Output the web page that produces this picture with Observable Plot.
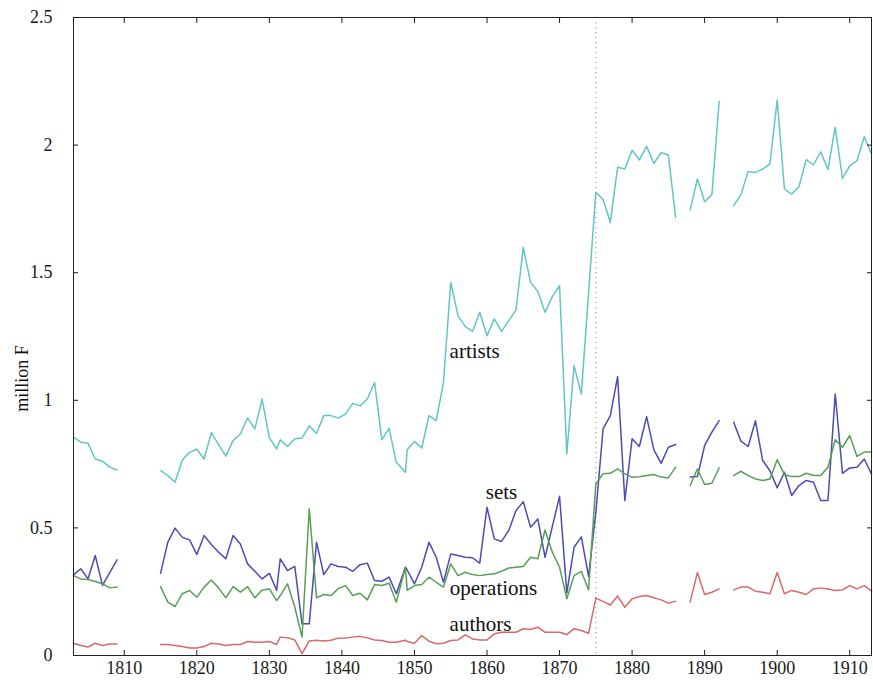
<!DOCTYPE html>
<html>
<head>
<meta charset="utf-8">
<script src="https://cdn.jsdelivr.net/npm/d3@7"></script>
<script src="https://cdn.jsdelivr.net/npm/@observablehq/plot@0.6"></script>
<style>
  html, body { margin: 0; padding: 0; background: #fff; }
  #chart svg { display: block; }
</style>
</head>
<body>
<div id="chart"></div>
<script>
// x positions (years) of the observations; the 1832–1848 readings sit half a year earlier in the source
const years = [1803,1804,1805,1806,1807,1808,1809,
  1810,1811,1812,1813,1814,
  1815,1816,1817,1818,1819,1820,1821,1822,1823,1824,1825,1826,1827,1828,1829,1830,1831,
  1831.5,1832.5,1833.5,1834.5,1835.5,1836.5,1837.5,1838.5,1839.5,1840.5,1841.5,1842.5,1843.5,1844.5,1845.5,1846.5,1847.5,
  1848.75,
  1849,1850,1851,1852,1853,1854,
  1855,1856,1857,1858,1859,1860,1861,1862,1863,1864,
  1865,1866,1867,1868,1869,1870,1871,1872,1873,1874,
  1875,1876,1877,1878,1879,1880,1881,1882,1883,1884,
  1885,1886,1887,1888,1889,1890,1891,1892,1893,1894,
  1895,1896,1897,1898,1899,1900,1901,1902,1903,1904,
  1905,1906,1907,1908,1909,1910,1911,1912,1913];

const artists = [0.855,0.836,0.832,0.770,0.761,0.738,0.727,
  null,null,null,null,null,
  0.725,0.705,0.679,0.766,0.796,0.808,0.770,0.873,0.826,0.781,0.842,0.868,0.931,0.888,1.005,0.853,0.810,
  0.845,0.819,0.849,0.852,0.900,0.870,0.940,0.940,0.930,0.947,0.988,0.978,1.005,1.070,0.845,0.890,0.757,
  0.718,
  0.806,0.839,0.813,0.940,0.920,1.070,
  1.462,1.332,1.289,1.270,1.345,1.253,1.319,1.270,1.312,1.354,
  1.599,1.462,1.427,1.345,1.406,1.449,0.790,1.136,1.025,1.420,
  1.815,1.787,1.697,1.913,1.906,1.980,1.942,1.995,1.928,1.971,
  1.961,1.717,null,1.746,1.867,1.778,1.806,2.171,null,1.763,
  1.806,1.897,1.893,1.906,1.926,2.177,1.828,1.808,1.837,1.943,
  1.922,1.974,1.904,2.070,1.870,1.919,1.939,2.033,1.965];

const sets = [0.316,0.340,0.300,0.392,0.275,0.325,0.375,
  null,null,null,null,null,
  0.322,0.444,0.499,0.463,0.453,0.396,0.470,0.435,0.405,0.379,0.470,0.437,0.359,0.330,0.300,0.322,0.255,
  0.379,0.333,0.349,0.124,0.124,0.444,0.317,0.359,0.349,0.346,0.330,0.356,0.362,0.294,0.291,0.307,0.242,
  0.346,
  0.335,0.281,0.346,0.444,0.385,0.287,
  0.398,0.392,0.385,0.383,0.362,0.581,0.457,0.447,0.490,0.568,
  0.603,0.503,0.535,0.385,0.505,0.624,0.245,0.424,0.465,0.310,
  0.560,0.888,0.940,1.093,0.607,0.849,0.819,0.936,0.806,0.753,
  0.816,0.827,null,0.699,0.701,0.823,0.875,0.920,null,0.914,
  0.840,0.819,0.920,0.764,0.724,0.657,0.718,0.627,0.666,0.686,
  0.679,0.607,0.607,1.025,0.714,0.735,0.738,0.770,0.711];

const operations = [0.313,0.300,0.298,0.290,0.281,0.265,0.268,
  null,null,null,null,null,
  0.270,0.209,0.192,0.242,0.255,0.228,0.268,0.296,0.265,0.226,0.270,0.248,0.270,0.226,0.257,0.261,0.215,
  0.235,0.281,0.190,0.072,0.575,0.226,0.239,0.235,0.262,0.274,0.235,0.244,0.218,0.278,0.274,0.283,0.209,
  0.346,
  0.255,0.274,0.278,0.307,0.287,0.268,
  0.359,0.313,0.326,0.317,0.313,0.317,0.320,0.330,0.343,0.346,
  0.349,0.385,0.379,0.492,0.405,0.346,0.222,0.313,0.330,0.257,
  0.672,0.712,0.714,0.731,0.712,0.698,0.700,0.705,0.709,0.699,
  0.696,0.738,null,0.666,0.731,0.670,0.675,0.735,null,0.705,
  0.722,0.705,0.692,0.686,0.692,0.767,0.709,0.701,0.701,0.714,
  0.705,0.705,0.738,0.845,0.816,0.862,0.780,0.797,0.797];

const authors = [0.048,0.039,0.033,0.048,0.039,0.045,0.045,
  null,null,null,null,null,
  0.043,0.043,0.039,0.035,0.029,0.029,0.035,0.048,0.045,0.039,0.043,0.043,0.055,0.052,0.052,0.055,0.043,
  0.072,0.070,0.061,0.007,0.057,0.060,0.057,0.060,0.068,0.069,0.072,0.075,0.069,0.061,0.059,0.052,0.052,
  0.060,
  0.055,0.048,0.078,0.056,0.046,0.048,
  0.059,0.061,0.081,0.065,0.061,0.061,0.085,0.091,0.091,0.091,
  0.105,0.102,0.111,0.091,0.091,0.091,0.082,0.105,0.098,0.087,
  0.225,0.212,0.198,0.233,0.189,0.222,0.231,0.235,0.226,0.218,
  0.205,0.213,null,0.210,0.325,0.239,0.248,0.261,null,0.257,
  0.268,0.268,0.252,0.248,0.242,0.325,0.242,0.255,0.248,0.239,
  0.261,0.265,0.261,0.255,0.257,0.274,0.261,0.274,0.252];

const seriesNames = ["artists", "sets", "operations", "authors"];
const seriesColors = ["#62c6c6", "#4c4cb4", "#55a055", "#d96868"];
const xTicks = [1810, 1820, 1830, 1840, 1850, 1860, 1870, 1880, 1890, 1900, 1910];
const yTicks = [0, 0.5, 1, 1.5, 2, 2.5];
const yTickLabels = ["0", "0.5", "1", "1.5", "2", "2.5"];
const yAxisTitle = "million F";
const yAxisTitleValue = 1.085;
const labelYears = [1858.3, 1862.0, 1860.9, 1859.1];
const labelValues = [1.193, 0.639, 0.264, 0.123];
const breakYear = 1875;

const seriesValues = [artists, sets, operations, authors];
const rows = [];
seriesNames.forEach((name, i) => {
  years.forEach((yr, j) => rows.push({series: name, year: yr, value: seriesValues[i][j]}));
});

const font = "'Liberation Serif', 'Times New Roman', Times, serif";

const chart = Plot.plot({
  width: 873,
  height: 680,
  marginLeft: 73,
  marginRight: 2,
  marginTop: 17,
  marginBottom: 25,
  style: {fontFamily: font, fontSize: "18px", background: "#fff", color: "#1a1a1a"},
  x: {domain: [1803, 1913], label: null},
  y: {domain: [0, 2.5], label: null},
  color: {domain: seriesNames, range: seriesColors},
  marks: [
    Plot.ruleX([breakYear], {stroke: "#8a8a8a", strokeWidth: 1, strokeDasharray: "1.2,3.8"}),
    Plot.line(rows, {x: "year", y: "value", z: "series", stroke: "series", strokeWidth: 1.5, curve: "linear"}),
    Plot.text(seriesNames, {x: (d, i) => labelYears[i], y: (d, i) => labelValues[i], text: d => d, fontSize: 21, fill: "#111", textAnchor: "middle"}),
    Plot.frame({stroke: "#222", strokeWidth: 1}),
    Plot.axisX(xTicks, {anchor: "bottom", tickSize: -5, tickPadding: 11, tickFormat: d => String(d), label: null, fontSize: 18}),
    Plot.axisX(xTicks, {anchor: "top", tickSize: -5, tickFormat: () => "", label: null}),
    Plot.axisY(yTicks, {anchor: "left", tickSize: -5, tickPadding: 26, tickFormat: d => yTickLabels[yTicks.indexOf(d)], label: null, fontSize: 18}),
    Plot.axisY(yTicks, {anchor: "right", tickSize: -5, tickFormat: () => "", label: null}),
    Plot.text([yAxisTitle], {frameAnchor: "left", y: () => yAxisTitleValue, dx: -51, rotate: -90, fontSize: 18, fill: "#111", textAnchor: "middle"})
  ]
});

document.getElementById("chart").appendChild(chart);
</script>
</body>
</html>
